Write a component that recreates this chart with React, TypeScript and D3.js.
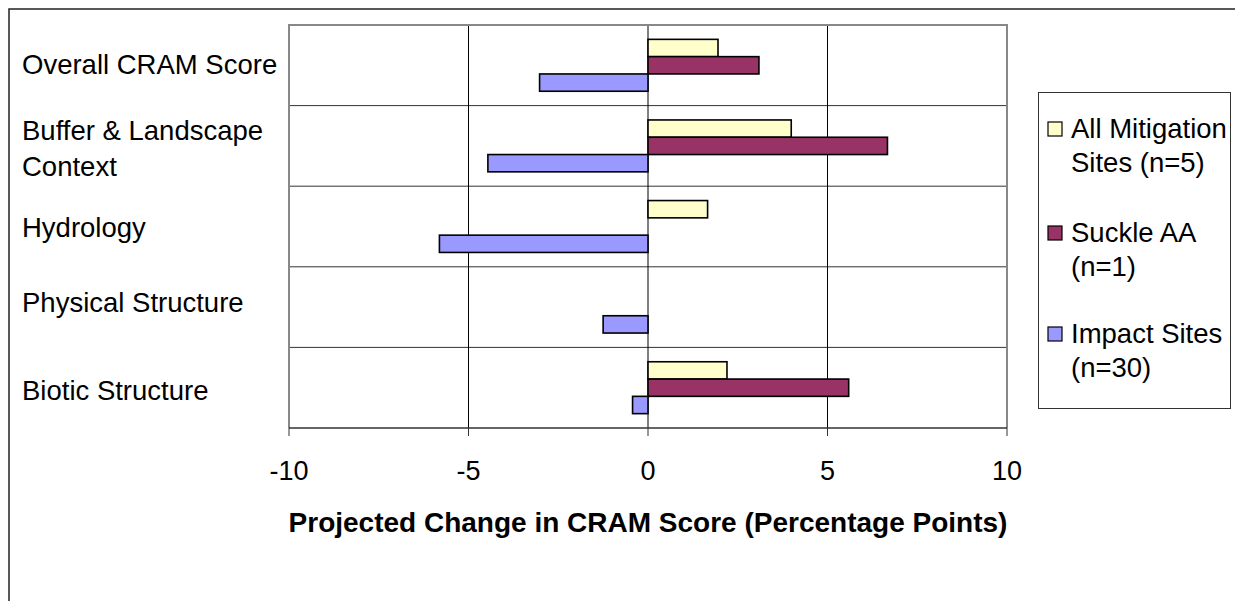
import React, { useEffect, useRef } from "react";
import * as d3 from "d3";

const categories = [
  ["Overall CRAM Score"],
  ["Buffer & Landscape", "Context"],
  ["Hydrology"],
  ["Physical Structure"],
  ["Biotic Structure"],
];
const seriesNames = [
  ["All Mitigation", "Sites (n=5)"],
  ["Suckle AA", "(n=1)"],
  ["Impact Sites", "(n=30)"],
];
const seriesColors = ["#FFFFCC", "#993366", "#9999FF"];
const mitigation = [1.95, 3.99, 1.66, 0, 2.2];
const suckle = [3.09, 6.67, 0, 0, 5.59];
const impact = [-3.02, -4.46, -5.81, -1.25, -0.43];
const xTicks = [-10, -5, 0, 5, 10];

const App = () => {
  const svgRef = useRef<SVGSVGElement>(null);

  useEffect(() => {
    const svg = d3.select(svgRef.current);
    svg.selectAll("*").remove();

    const width = 1235,
      height = 601;
    const left = 289,
      right = 1007,
      top = 25,
      bottom = 428;
    const font = "Liberation Sans, Arial, sans-serif";

    // outer chart border
    svg
      .append("rect")
      .attr("x", 9)
      .attr("y", 9)
      .attr("width", width + 10)
      .attr("height", height + 10)
      .attr("fill", "white")
      .attr("stroke", "#222")
      .attr("stroke-width", 1.5);

    const x = d3.scaleLinear().domain([-10, 10]).range([left, right]);
    const y = d3
      .scaleBand()
      .domain(categories.map((d, i) => String(i)))
      .range([top, bottom]);

    const bw = y.bandwidth();
    const gap = 1.66;
    const barH = bw / (3 + gap);
    const off = (gap / 2) * barH;

    const g = svg.append("g");

    // horizontal band separators
    g.selectAll("hline")
      .data(d3.range(1, categories.length))
      .join("line")
      .attr("x1", left)
      .attr("x2", right)
      .attr("y1", (d) => top + d * bw)
      .attr("y2", (d) => top + d * bw)
      .attr("stroke", "#333")
      .attr("stroke-width", 1);

    // vertical gridlines
    g.selectAll("vline")
      .data(xTicks.slice(1, -1))
      .join("line")
      .attr("x1", (d) => x(d))
      .attr("x2", (d) => x(d))
      .attr("y1", top)
      .attr("y2", bottom)
      .attr("stroke", "#000")
      .attr("stroke-width", 1);

    // plot frame (gray)
    g.append("path")
      .attr("d", `M${left},${bottom}V${top}H${right}V${bottom}`)
      .attr("fill", "none")
      .attr("stroke", "#888")
      .attr("stroke-width", 2);

    const series = [mitigation, suckle, impact];
    series.forEach((vals, si) => {
      g.selectAll(`bar${si}`)
        .data(vals.map((v, i) => ({ v, i })).filter((d) => d.v !== 0))
        .join("rect")
        .attr("x", (d) => x(Math.min(0, d.v)))
        .attr("width", (d) => Math.abs(x(d.v) - x(0)))
        .attr("y", (d) => (y(String(d.i)) as number) + off + si * barH)
        .attr("height", barH)
        .attr("fill", seriesColors[si])
        .attr("stroke", "#000")
        .attr("stroke-width", 1.6);
    });

    // x axis
    g.append("line")
      .attr("x1", left)
      .attr("x2", right)
      .attr("y1", bottom)
      .attr("y2", bottom)
      .attr("stroke", "#333")
      .attr("stroke-width", 1.5);
    g.selectAll("tick")
      .data(xTicks)
      .join("line")
      .attr("x1", (d) => x(d))
      .attr("x2", (d) => x(d))
      .attr("y1", bottom)
      .attr("y2", bottom + 8)
      .attr("stroke", "#333")
      .attr("stroke-width", 1);
    g.selectAll("ticklabel")
      .data(xTicks)
      .join("text")
      .attr("x", (d) => x(d))
      .attr("y", 480)
      .attr("text-anchor", "middle")
      .attr("font-family", font)
      .attr("font-size", 27)
      .text((d) => String(d));

    g.append("text")
      .attr("x", (left + right) / 2)
      .attr("y", 532)
      .attr("text-anchor", "middle")
      .attr("font-family", font)
      .attr("font-size", 28)
      .attr("font-weight", "bold")
      .text("Projected Change in CRAM Score (Percentage Points)");

    // category labels (baselines)
    const labelBase = [74, 140, 237, 312, 400];
    categories.forEach((lines, i) => {
      lines.forEach((ln, j) => {
        g.append("text")
          .attr("x", 22)
          .attr("y", labelBase[i] + j * 36)
          .attr("font-family", font)
          .attr("font-size", 27.5)
          .text(ln);
      });
    });

    // legend
    const lg = svg.append("g");
    lg.append("rect")
      .attr("x", 1038.5)
      .attr("y", 92.5)
      .attr("width", 192)
      .attr("height", 316)
      .attr("fill", "white")
      .attr("stroke", "#333")
      .attr("stroke-width", 1);
    const entryBase = [138, 242, 343];
    seriesNames.forEach((lines, i) => {
      lg.append("rect")
        .attr("x", 1048)
        .attr("y", entryBase[i] - 16)
        .attr("width", 14)
        .attr("height", 14)
        .attr("fill", seriesColors[i])
        .attr("stroke", "#000")
        .attr("stroke-width", 1.2);
      lines.forEach((ln, j) => {
        lg.append("text")
          .attr("x", 1071)
          .attr("y", entryBase[i] + j * 33.5)
          .attr("font-family", font)
          .attr("font-size", 27.5)
          .text(ln);
      });
    });
  }, []);

  return (
    <svg
      ref={svgRef}
      width={1235}
      height={601}
      style={{ position: "absolute", left: 0, top: 0 }}
    />
  );
};

export default App;
